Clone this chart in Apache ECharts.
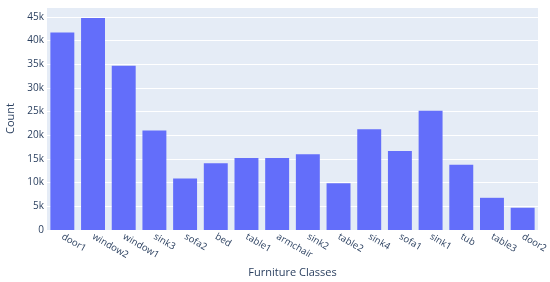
<!DOCTYPE html>
<html>
<head>
<meta charset="utf-8">
<script src="https://cdn.jsdelivr.net/npm/echarts@6/dist/echarts.min.js"></script>
<style>
  html, body { margin: 0; padding: 0; background: #fff; }
  #chart { width: 550px; height: 282px; }
</style>
</head>
<body>
<div id="chart"></div>
<script>
// furniture classes and their counts
const classes = ['door1', 'window2', 'window1', 'sink3', 'sofa2', 'bed', 'table1', 'armchair',
  'sink2', 'table2', 'sink4', 'sofa1', 'sink1', 'tub', 'table3', 'door2'];
const counts = [41700, 44800, 34700, 21000, 10900, 14100, 15200, 15200,
  16000, 9900, 21300, 16700, 25200, 13800, 6800, 4700];
const yTicks = [0, 5000, 10000, 15000, 20000, 25000, 30000, 35000, 40000, 45000];

const chart = echarts.init(document.getElementById('chart'), null, { renderer: 'canvas' });

const font = '"Open Sans", "Noto Sans", sans-serif';
const ink = '#2a3f5f';

chart.setOption({
  animation: false,
  textStyle: { fontFamily: font },
  grid: {
    left: 47,
    right: 12,
    top: 7,
    bottom: 52,
    outerBoundsMode: 'none',
    show: true,
    backgroundColor: '#e5ecf6',
    borderWidth: 0,
  },
  xAxis: {
    type: 'category',
    data: classes,
    name: 'Furniture Classes',
    nameLocation: 'middle',
    nameGap: 37,
    nameMoveOverlap: false,
    nameTextStyle: { fontFamily: font, fontSize: 11, color: ink },
    axisLine: { show: false },
    axisTick: { show: false },
    axisLabel: {
      rotate: -30,
      interval: 0,
      margin: 6,
      fontFamily: font,
      fontSize: 9.5,
      color: ink,
    },
  },
  yAxis: {
    type: 'value',
    min: 0,
    max: 47100,
    interval: 5000,
    name: 'Count',
    nameLocation: 'middle',
    nameGap: 31,
    nameMoveOverlap: false,
    nameTextStyle: { fontFamily: font, fontSize: 11, color: ink },
    axisLine: { show: false },
    axisTick: { show: false },
    axisLabel: {
      margin: 3,
      fontFamily: font,
      fontSize: 10,
      color: ink,
      showMaxLabel: false,
      formatter: (v) => (yTicks.includes(v) ? (v === 0 ? '0' : v / 1000 + 'k') : ''),
    },
    splitLine: {
      lineStyle: { color: '#ffffff', width: 1 },
    },
  },
  series: [
    {
      type: 'bar',
      data: counts,
      barCategoryGap: '22%',
      itemStyle: { color: '#636efa' },
    },
  ],
});
</script>
</body>
</html>
